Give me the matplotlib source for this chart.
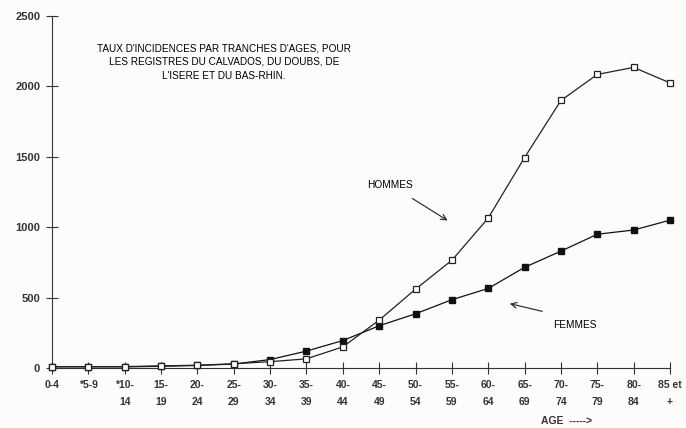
import matplotlib.pyplot as plt
import numpy as np

plt.rcParams['font.family'] = ['Liberation Sans', 'DejaVu Sans']

ages = ['0-4', '*5-9', '*10-\n14', '15-\n19', '20-\n24', '25-\n29', '30-\n34', '35-\n39',
        '40-\n44', '45-\n49', '50-\n54', '55-\n59', '60-\n64', '65-\n69', '70-\n74',
        '75-\n79', '80-\n84', '85 et\n+']
hommes = [10, 10, 10, 15, 20, 30, 45, 65, 150, 340, 560, 765, 1065, 1495, 1900, 2085, 2135, 2025]
femmes = [8, 8, 8, 12, 18, 28, 60, 120, 195, 300, 385, 485, 565, 715, 830, 950, 980, 1050]
yticks = [0, 500, 1000, 1500, 2000, 2500]

fig = plt.figure(figsize=(6.86, 4.28), dpi=100)
fig.patch.set_facecolor('#fcfcfa')
ax = fig.add_axes([52/686, 1 - 368/428, 618/686, 352/428])
ax.set_facecolor('none')

x = np.arange(len(ages))
ax.plot(x, hommes, color='#222222', lw=0.9, marker='s', markersize=5,
        markerfacecolor='white', markeredgecolor='#222222', markeredgewidth=0.9, clip_on=False, zorder=3)
ax.plot(x, femmes, color='#111111', lw=0.9, marker='s', markersize=4.5,
        markerfacecolor='#111111', markeredgecolor='#111111', clip_on=False, zorder=2)

ax.set_xlim(0, len(ages) - 1)
ax.set_ylim(0, 2500)
ax.set_xticks(x)
ax.set_xticklabels(ages, fontsize=7.5, fontweight='bold', color='#333333', linespacing=1.9)
ax.set_yticks(yticks)
ax.set_yticklabels([str(v) for v in yticks], fontsize=8, fontweight='bold', color='#333333')
ax.tick_params(axis='both', direction='inout', length=9, width=0.8, color='#333333')
ax.tick_params(axis='x', pad=4)
ax.tick_params(axis='y', pad=4)
for s in ['top', 'right']:
    ax.spines[s].set_visible(False)
for s in ['left', 'bottom']:
    ax.spines[s].set_linewidth(0.8)
    ax.spines[s].set_color('#333333')

narrow = ['Liberation Sans Narrow', 'Liberation Sans', 'DejaVu Sans']
fig.text(224/686, 1 - 62/428, "TAUX D'INCIDENCES PAR TRANCHES D'AGES, POUR\nLES REGISTRES DU CALVADOS, DU DOUBS, DE\nL'ISERE ET DU BAS-RHIN.",
         ha='center', va='center', fontsize=7.2, family=narrow, linespacing=1.45)
fig.text(390/686, 1 - 185/428, 'HOMMES', ha='center', va='center', fontsize=7.3, family=narrow)
fig.text(575/686, 1 - 325/428, 'FEMMES', ha='center', va='center', fontsize=7.3, family=narrow)
fig.text(567/686, 1 - 421/428, 'AGE  ----->', ha='center', va='center', fontsize=7.5, fontweight='bold', color='#333333')

ax.annotate('', xy=(450/686, 1 - 222/428), xytext=(410/686, 1 - 197/428),
            xycoords='figure fraction', textcoords='figure fraction',
            arrowprops=dict(arrowstyle='->', color='#333333', lw=0.9))
ax.annotate('', xy=(507/686, 1 - 303/428), xytext=(545/686, 1 - 312/428),
            xycoords='figure fraction', textcoords='figure fraction',
            arrowprops=dict(arrowstyle='->', color='#333333', lw=0.9))

fig.savefig('out.png', dpi=100, facecolor=fig.get_facecolor())
